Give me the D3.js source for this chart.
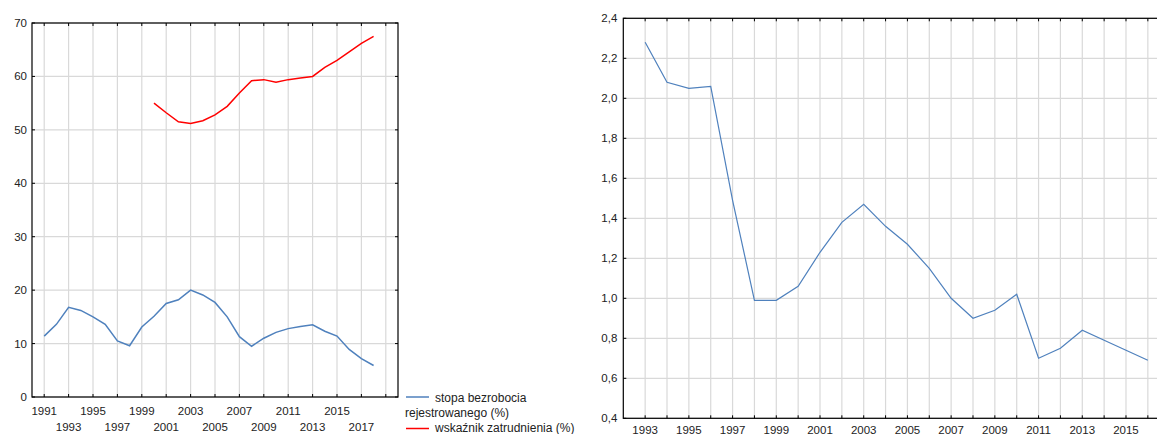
<!DOCTYPE html>
<html><head><meta charset="utf-8">
<script src="https://cdn.jsdelivr.net/npm/d3@7"></script>
<style>body{margin:0;background:#fff}svg{display:block;font-family:"Liberation Sans",Arial,sans-serif}</style>
</head><body><svg id="c" width="1157" height="434"></svg>
<script>
const yearsL = d3.range(1991, 2019);
const unemployment = [11.4,13.6,16.8,16.2,15.0,13.6,10.5,9.6,13.1,15.1,17.5,18.2,20.0,19.1,17.7,15.0,11.3,9.5,11.0,12.1,12.8,13.2,13.5,12.3,11.4,8.9,7.2,5.9];
const yearsEmp = d3.range(2000, 2019);
const employment = [55.0,53.2,51.5,51.2,51.7,52.8,54.4,56.9,59.2,59.4,58.9,59.4,59.7,60.0,61.7,63.0,64.6,66.2,67.5];
const leftYTicks = [0,10,20,30,40,50,60,70];
const leftXLabels = d3.range(1991, 2018, 2);
const leftXGrid = d3.range(1991, 2020, 2);
const legendLabels = [["stopa bezrobocia","rejestrowanego (%)"],["wskaźnik zatrudnienia (%)"]];

const yearsR = d3.range(1993, 2017);
const ratio = [2.28,2.08,2.05,2.06,1.49,0.99,0.99,1.06,1.23,1.38,1.47,1.36,1.27,1.15,1.00,0.90,0.94,1.02,0.70,0.75,0.84,0.79,0.74,0.69];
const rightYTicks = [0.4,0.6,0.8,1.0,1.2,1.4,1.6,1.8,2.0,2.2,2.4];
const rightXLabels = d3.range(1993, 2017, 2);

const svg = d3.select("#c");
const grid = "#d9d9d9", txt = "#222";
const blue = "#4f81bd", red = "#ff0000";
const tk = 3;

// LEFT CHART
const xL = d3.scaleLinear().domain([1990, 2020]).range([32, 398]);
const yL = d3.scaleLinear().domain([0, 70]).range([397, 23]);
const gL = svg.append("g");
gL.selectAll(".vg").data(leftXGrid).join("line")
  .attr("x1", d => xL(d)).attr("x2", d => xL(d)).attr("y1", yL(70)).attr("y2", yL(0))
  .attr("stroke", grid).attr("stroke-width", 1.2);
gL.selectAll(".hg").data(leftYTicks).join("line")
  .attr("x1", xL(1990)).attr("x2", xL(2020)).attr("y1", d => yL(d)).attr("y2", d => yL(d))
  .attr("stroke", grid).attr("stroke-width", 1.2);
gL.selectAll(".tt").data(leftXGrid).join("line")
  .attr("x1", d => xL(d)).attr("x2", d => xL(d)).attr("y1", yL(70)).attr("y2", yL(70) + tk).attr("stroke", "#000");
gL.selectAll(".tb").data(leftXGrid).join("line")
  .attr("x1", d => xL(d)).attr("x2", d => xL(d)).attr("y1", yL(0)).attr("y2", yL(0) - tk).attr("stroke", "#000");
gL.selectAll(".tl").data(leftYTicks).join("line")
  .attr("x1", xL(1990)).attr("x2", xL(1990) + tk).attr("y1", d => yL(d)).attr("y2", d => yL(d)).attr("stroke", "#000");
gL.selectAll(".tr").data(leftYTicks).join("line")
  .attr("x1", xL(2020)).attr("x2", xL(2020) - tk).attr("y1", d => yL(d)).attr("y2", d => yL(d)).attr("stroke", "#000");
gL.append("rect").attr("x", xL(1990)).attr("y", yL(70)).attr("width", xL(2020) - xL(1990)).attr("height", yL(0) - yL(70))
  .attr("fill", "none").attr("stroke", "#000").attr("stroke-width", 1.2);
gL.selectAll(".yl").data(leftYTicks).join("text")
  .attr("x", xL(1990) - 5).attr("y", d => yL(d) + 4).attr("text-anchor", "end")
  .attr("font-size", 11.5).attr("fill", txt).text(d => d);
gL.selectAll(".xl").data(leftXLabels).join("text")
  .attr("x", d => xL(d)).attr("y", (d, i) => i % 2 === 0 ? 415 : 431).attr("text-anchor", "middle")
  .attr("font-size", 11.5).attr("fill", txt).text(d => d);
const lineL = d3.line().x(d => xL(d[0])).y(d => yL(d[1]));
gL.append("path").datum(yearsL.map((y, i) => [y, unemployment[i]])).attr("d", lineL)
  .attr("fill", "none").attr("stroke", blue).attr("stroke-width", 1.5);
gL.append("path").datum(yearsEmp.map((y, i) => [y, employment[i]])).attr("d", lineL)
  .attr("fill", "none").attr("stroke", red).attr("stroke-width", 1.5);
// legend
const lg = svg.append("g");
lg.append("line").attr("x1", 406).attr("x2", 429).attr("y1", 397).attr("y2", 397).attr("stroke", blue).attr("stroke-width", 1.5);
lg.append("text").attr("x", 435).attr("y", 401.5).attr("font-size", 12).attr("fill", txt).text(legendLabels[0][0]);
lg.append("text").attr("x", 405).attr("y", 417).attr("font-size", 12).attr("fill", txt).text(legendLabels[0][1]);
lg.append("line").attr("x1", 406).attr("x2", 429).attr("y1", 428.5).attr("y2", 428.5).attr("stroke", red).attr("stroke-width", 1.5);
lg.append("text").attr("x", 435).attr("y", 431.5).attr("font-size", 12).attr("fill", txt).text(legendLabels[1][0]);

// RIGHT CHART
const xR = d3.scaleLinear().domain([1992, 2017]).range([623.3, 1169.7]);
const yR = d3.scaleLinear().domain([0.4, 2.4]).range([418.3, 18.3]);
const gR = svg.append("g");
gR.selectAll(".vg").data(yearsR).join("line")
  .attr("x1", d => xR(d)).attr("x2", d => xR(d)).attr("y1", yR(2.4)).attr("y2", yR(0.4))
  .attr("stroke", grid).attr("stroke-width", 1.2);
gR.selectAll(".hg").data(rightYTicks).join("line")
  .attr("x1", xR(1992)).attr("x2", xR(2017)).attr("y1", d => yR(d)).attr("y2", d => yR(d))
  .attr("stroke", grid).attr("stroke-width", 1.2);
gR.selectAll(".tt").data(yearsR).join("line")
  .attr("x1", d => xR(d)).attr("x2", d => xR(d)).attr("y1", yR(2.4)).attr("y2", yR(2.4) + tk).attr("stroke", "#000");
gR.selectAll(".tb").data(yearsR).join("line")
  .attr("x1", d => xR(d)).attr("x2", d => xR(d)).attr("y1", yR(0.4)).attr("y2", yR(0.4) - tk).attr("stroke", "#000");
gR.selectAll(".tl").data(rightYTicks).join("line")
  .attr("x1", xR(1992)).attr("x2", xR(1992) + tk).attr("y1", d => yR(d)).attr("y2", d => yR(d)).attr("stroke", "#000");
gR.append("rect").attr("x", xR(1992)).attr("y", yR(2.4)).attr("width", xR(2017) - xR(1992)).attr("height", yR(0.4) - yR(2.4))
  .attr("fill", "none").attr("stroke", "#000").attr("stroke-width", 1.2);
gR.selectAll(".yl").data(rightYTicks).join("text")
  .attr("x", xR(1992) - 6).attr("y", d => yR(d) + 4).attr("text-anchor", "end")
  .attr("font-size", 11.5).attr("fill", txt).text(d => d3.format(".1f")(d).replace(".", ","));
gR.selectAll(".xl").data(rightXLabels).join("text")
  .attr("x", d => xR(d)).attr("y", 433.5).attr("text-anchor", "middle")
  .attr("font-size", 11.5).attr("fill", txt).text(d => d);
gR.append("path").datum(yearsR.map((y, i) => [y, ratio[i]]))
  .attr("d", d3.line().x(d => xR(d[0])).y(d => yR(d[1])))
  .attr("fill", "none").attr("stroke", blue).attr("stroke-width", 1.2);
</script></body></html>
